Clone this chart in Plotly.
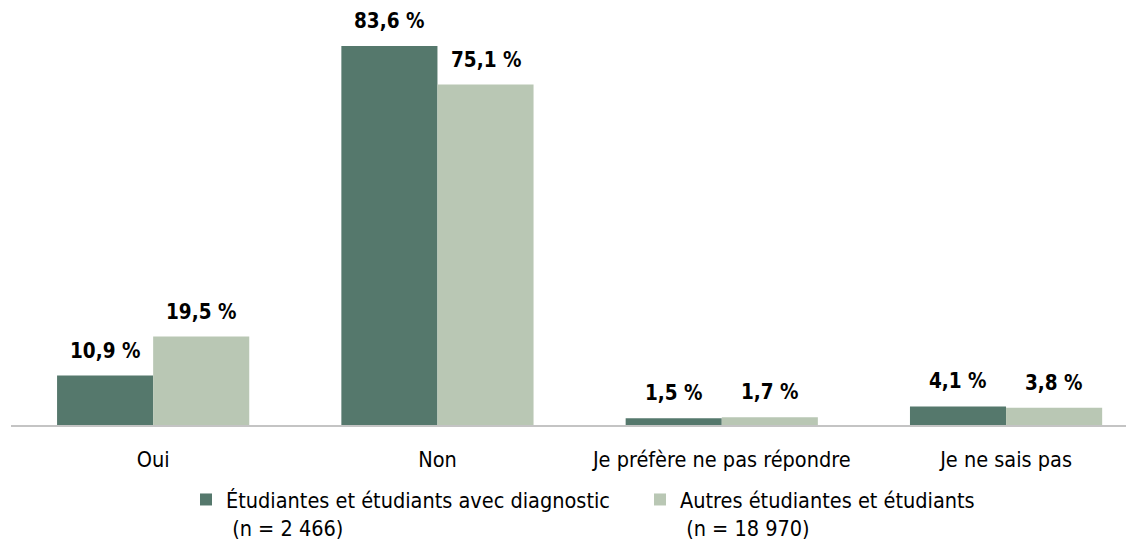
import plotly.graph_objects as go

categories = ["Oui", "Non", "Je préfère ne pas répondre", "Je ne sais pas"]
series_names = ["Étudiantes et étudiants avec diagnostic<br> (n = 2 466)",
                "Autres étudiantes et étudiants<br> (n = 18 970)"]
diag_values = [10.9, 83.6, 1.5, 4.1]
autres_values = [19.5, 75.1, 1.7, 3.8]
colors = ["#55786C", "#B9C7B4"]

FONT = "DejaVu Sans Condensed, Liberation Sans Narrow, Arial Narrow, Liberation Sans, sans-serif"

xs = list(range(len(categories)))
fig = go.Figure()
for name, vals, col, lg in zip(series_names, [diag_values, autres_values], colors,
                               ["legend", "legend2"]):
    fig.add_trace(go.Bar(x=xs, y=vals, name=name, marker_color=col,
                         marker_line_width=0, legend=lg))

half = 0.676 / 4
for i, (a, b) in enumerate(zip(diag_values, autres_values)):
    for off, v in ((-half, a), (half, b)):
        fig.add_annotation(x=i + off, y=v,
                           text="<b>" + f"{v:.1f} %".replace(".", ",") + "</b>",
                           showarrow=False, yanchor="bottom", yshift=11,
                           font=dict(family=FONT, size=20.5, color="#000000"),
                           xref="x", yref="y")

leg_common = dict(orientation="h", yref="container", xref="container",
                  y=1 - 471 / 544, yanchor="top", xanchor="left",
                  font=dict(size=21.5), valign="top", itemwidth=30,
                  bgcolor="rgba(0,0,0,0)")
fig.update_layout(
    width=1134, height=544,
    margin=dict(l=3, r=8, t=2, b=127, autoexpand=False),
    barmode="group", bargap=0.324, bargroupgap=0,
    plot_bgcolor="white", paper_bgcolor="white",
    font=dict(family=FONT, size=21.5, color="#000000"),
    xaxis=dict(range=[-0.5, 3.45], tickvals=xs, ticktext=categories,
               showline=True, linecolor="#C4C4C4", linewidth=2,
               showgrid=False, zeroline=False, ticks="", ticklabelstandoff=14,
               tickfont=dict(size=21.5), automargin=False),
    yaxis=dict(range=[0, 91.55], visible=False, showgrid=False, zeroline=False,
               automargin=False),
    legend=dict(x=178 / 1134, **leg_common),
    legend2=dict(x=632 / 1134, **leg_common),
    showlegend=True,
)
fig.write_html("out.html")
